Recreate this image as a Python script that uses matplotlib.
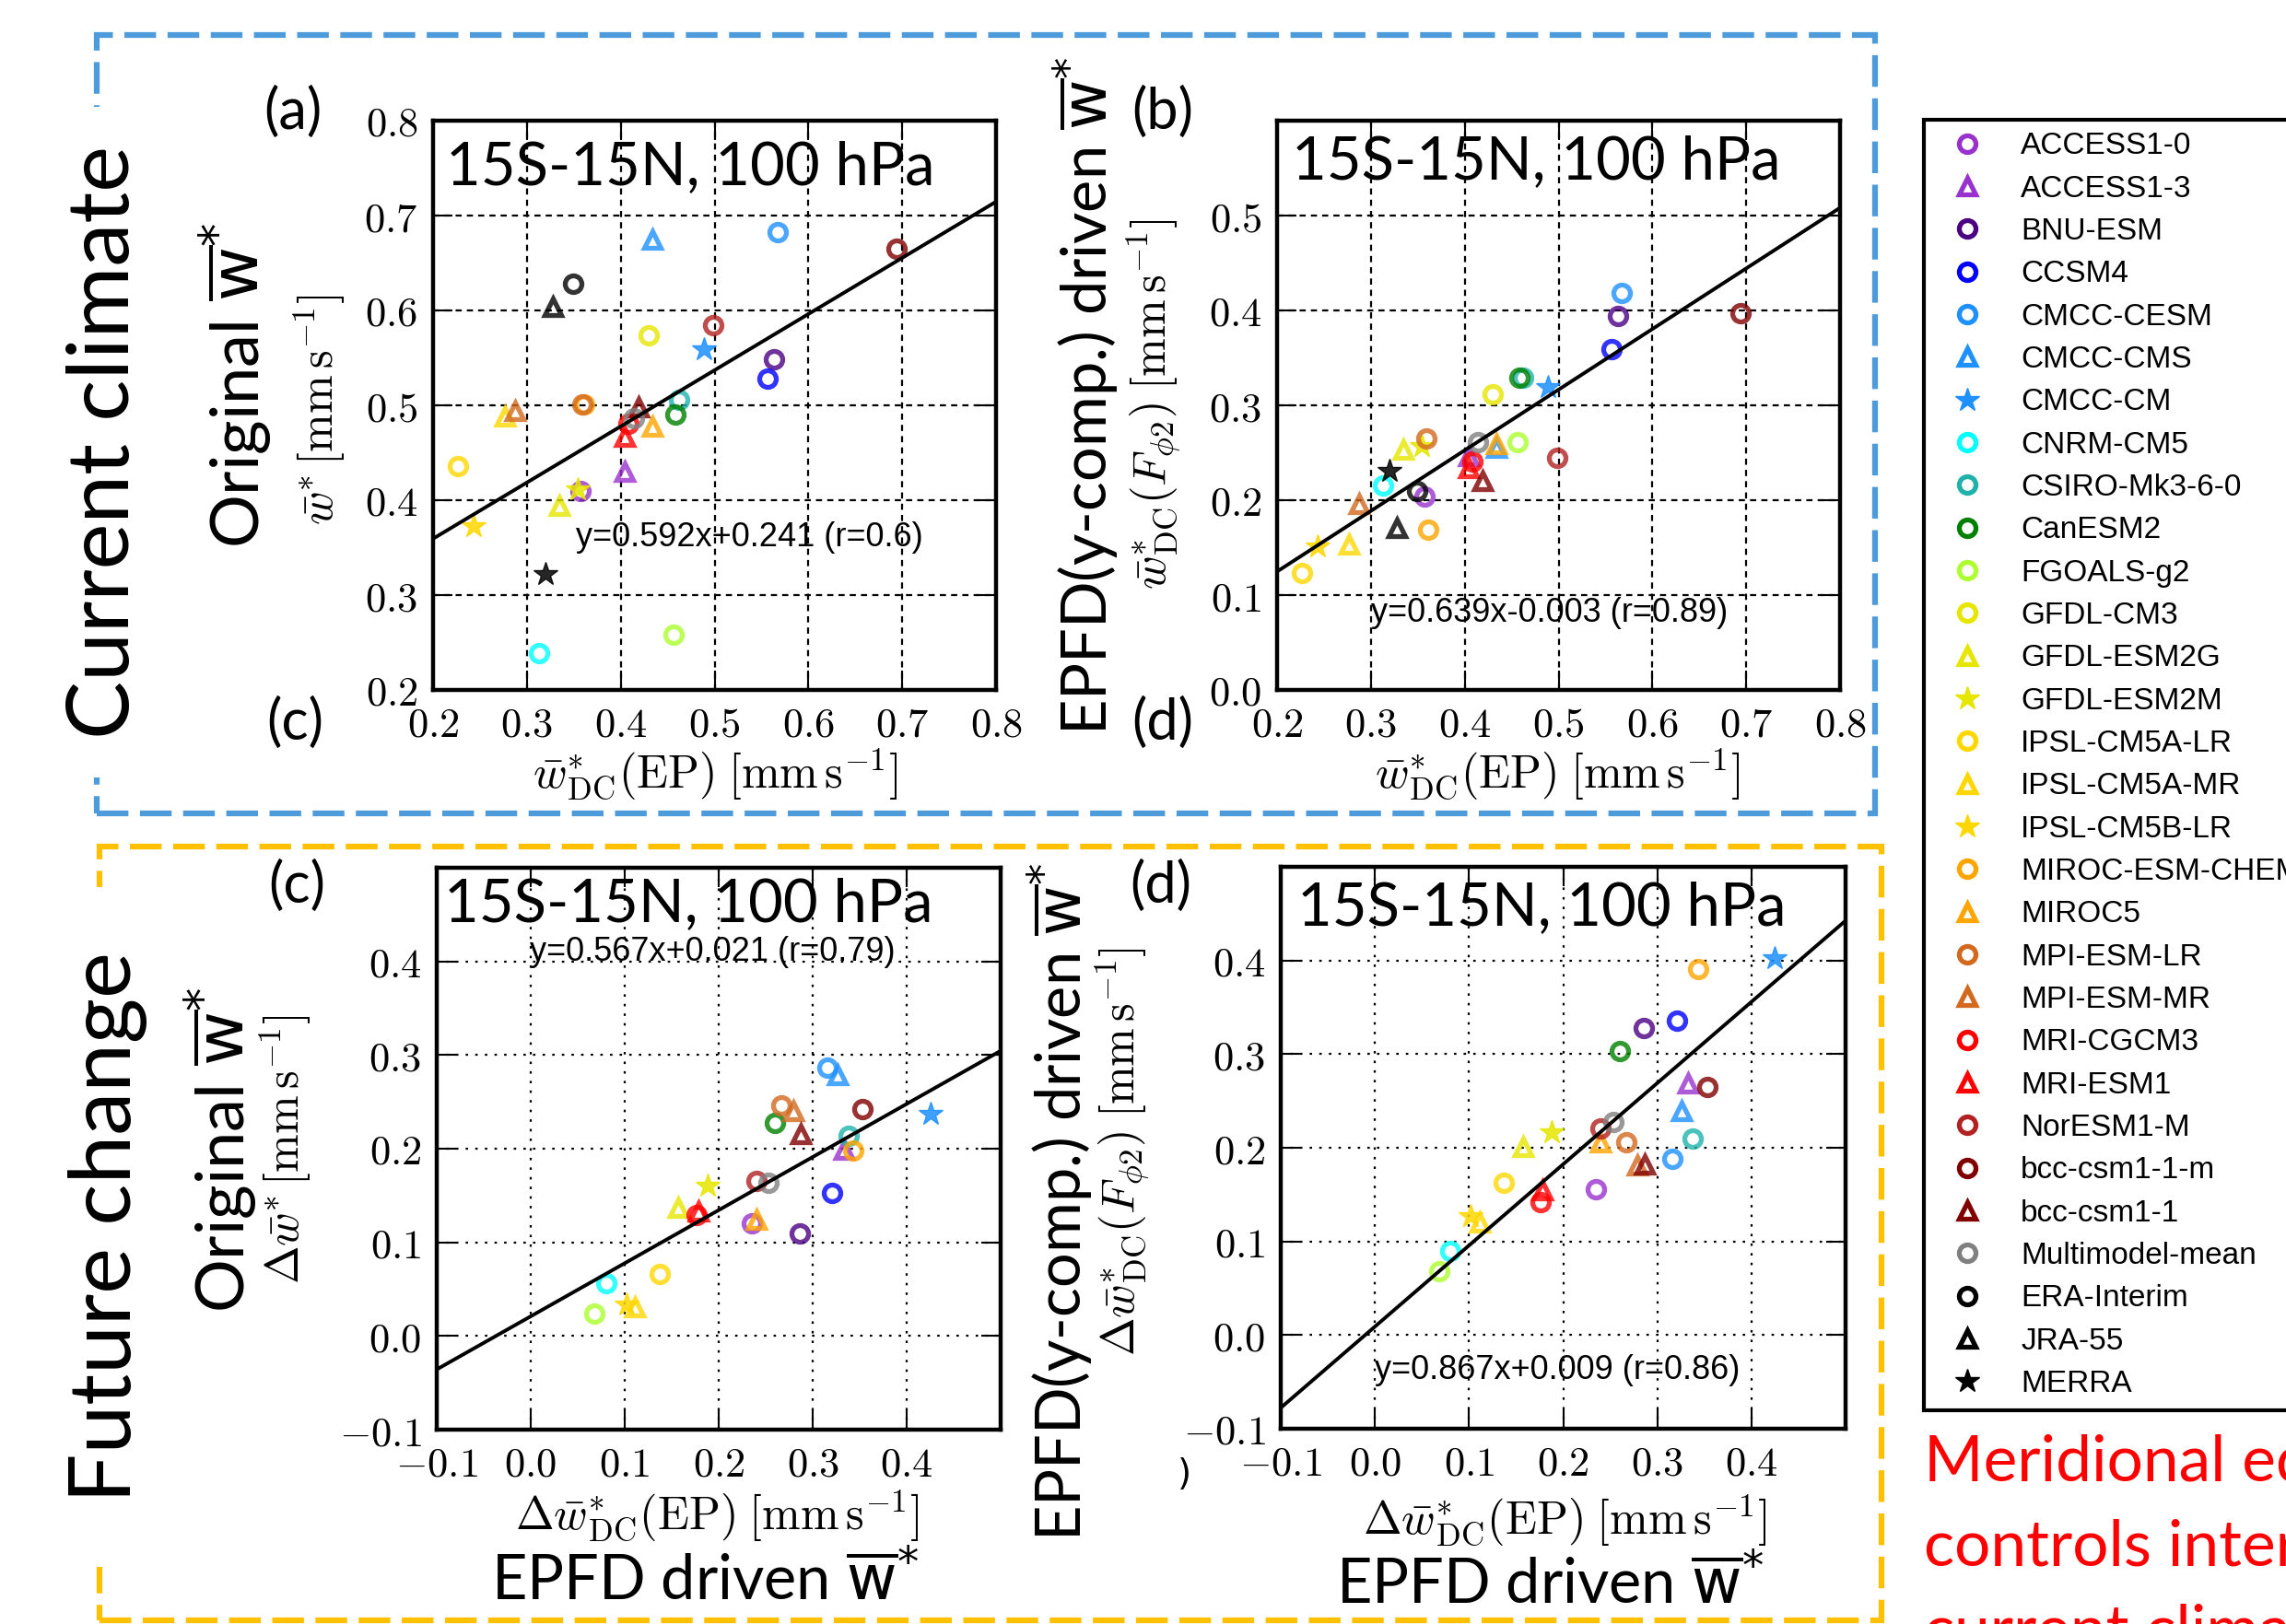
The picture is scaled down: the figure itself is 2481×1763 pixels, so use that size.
import numpy as np
import matplotlib
matplotlib.use('Agg')
import matplotlib.pyplot as plt
from matplotlib.lines import Line2D
from matplotlib.patches import Rectangle

W, H, DPI = 2481, 1763, 100
plt.rcParams['mathtext.fontset'] = 'cm'
plt.rcParams['font.family'] = ['DejaVu Sans']

# ---------------- data ----------------
models = ['ACCESS1-0', 'ACCESS1-3', 'BNU-ESM', 'CCSM4', 'CMCC-CESM', 'CMCC-CMS', 'CMCC-CM',
          'CNRM-CM5', 'CSIRO-Mk3-6-0', 'CanESM2', 'FGOALS-g2', 'GFDL-CM3', 'GFDL-ESM2G',
          'GFDL-ESM2M', 'IPSL-CM5A-LR', 'IPSL-CM5A-MR', 'IPSL-CM5B-LR', 'MIROC-ESM-CHEM',
          'MIROC5', 'MPI-ESM-LR', 'MPI-ESM-MR', 'MRI-CGCM3', 'MRI-ESM1', 'NorESM1-M',
          'bcc-csm1-1-m', 'bcc-csm1-1', 'Multimodel-mean', 'ERA-Interim', 'JRA-55', 'MERRA']
markers = ['o', '^', 'o', 'o', 'o', '^', '*', 'o', 'o', 'o', 'o', 'o', '^', '*', 'o', '^', '*',
           'o', '^', 'o', '^', 'o', '^', 'o', 'o', '^', 'o', 'o', '^', '*']
colors = ['#9932CC', '#9932CC', '#4B0082', '#0000FF', '#1E90FF', '#1E90FF', '#1E90FF',
          '#00FFFF', '#20B2AA', '#008000', '#ADFF2F', '#E6E600', '#E6E600', '#E6E600',
          '#FFD700', '#FFD700', '#FFD700', '#FFA500', '#FFA500', '#D2691E', '#D2691E',
          '#FF0000', '#FF0000', '#B22222', '#800000', '#800000', '#808080', '#000000',
          '#000000', '#000000']

# current climate: x = w*_DC(EP)
cur_x = [0.357, 0.404, 0.563, 0.556, 0.567, 0.434, 0.489, 0.313, 0.462, 0.458, 0.456, 0.430,
         0.335, 0.354, 0.227, 0.277, 0.243, 0.361, 0.434, 0.359, 0.287, 0.408, 0.404, 0.499,
         0.694, 0.419, 0.414, 0.349, 0.328, 0.320]
cur_y_orig = [0.410, 0.430, 0.549, 0.528, 0.683, 0.675, 0.559, 0.239, 0.506, 0.490, 0.258,
              0.574, 0.394, 0.412, 0.436, 0.488, 0.373, 0.501, 0.478, 0.501, 0.494, 0.481,
              0.467, 0.584, 0.665, 0.498, 0.486, 0.628, 0.604, 0.322]
cur_y_epfd = [0.204, 0.247, 0.394, 0.359, 0.418, 0.255, 0.319, 0.216, 0.329, 0.329, 0.261,
              0.312, 0.253, 0.257, 0.123, 0.153, 0.151, 0.169, 0.259, 0.265, 0.196, 0.241,
              0.234, 0.245, 0.397, 0.220, 0.261, 0.210, 0.171, 0.231]

nan = np.nan
# future change: x = delta w*_DC(EP)
fut_x = [0.235, 0.333, 0.286, 0.321, 0.316, 0.326, 0.425, 0.080, 0.338, 0.260, 0.068, nan,
         0.157, 0.188, 0.137, 0.111, 0.102, 0.343, 0.240, 0.267, 0.279, 0.176, 0.178, 0.240,
         0.353, 0.287, 0.253, nan, nan, nan]
fut_y_orig = [0.120, 0.199, 0.110, 0.153, 0.287, 0.279, 0.237, 0.056, 0.214, 0.228, 0.024, nan,
              0.137, 0.161, 0.066, 0.031, 0.034, 0.198, 0.124, 0.246, 0.240, 0.129, 0.133,
              0.166, 0.242, 0.216, 0.164, nan, nan, nan]
fut_y_epfd = [0.156, 0.269, 0.328, 0.336, 0.188, 0.239, 0.403, 0.090, 0.210, 0.303, 0.068, nan,
              0.201, 0.217, 0.163, 0.120, 0.127, 0.391, 0.206, 0.206, 0.181, 0.142, 0.155,
              0.221, 0.265, 0.182, 0.228, nan, nan, nan]

fit_slope = [0.592, 0.639, 0.567, 0.867]
fit_icept = [0.241, -0.003, 0.021, 0.009]
fit_r = ['0.6', '0.89', '0.79', '0.86']

cur_ticks_x = [0.2, 0.3, 0.4, 0.5, 0.6, 0.7, 0.8]
cur_ticks_y_orig = [0.2, 0.3, 0.4, 0.5, 0.6, 0.7, 0.8]
cur_ticks_y_epfd = [0.0, 0.1, 0.2, 0.3, 0.4, 0.5]
fut_ticks = [-0.1, 0.0, 0.1, 0.2, 0.3, 0.4]

title_txt = '15S-15N, 100 hPa'

# ---------------- figure ----------------
fig = plt.figure(figsize=(W / DPI, H / DPI), dpi=DPI)


def fx(px):
    return px / W


def fy(py):
    return 1 - py / H


def add_ax(l, t, r, b):
    return fig.add_axes([fx(l), fy(b), (r - l) / W, (b - t) / H])


def tl(v):
    v = round(v, 1)
    if v == 0:
        v = 0.0
    return r'$%.1f$' % v


def style(ax, xlim, ylim, xt, yt, gls):
    ax.set_xlim(xlim)
    ax.set_ylim(ylim)
    ax.set_xticks(xt)
    ax.set_yticks(yt)
    ax.set_xticklabels([tl(v) for v in xt])
    ax.set_yticklabels([tl(v) for v in yt])
    ax.tick_params(direction='in', length=15, width=1.5, top=True, right=True,
                   labelsize=32, pad=12)
    for s in ax.spines.values():
        s.set_linewidth(3.2)
    ax.grid(True, color='black', linestyle=gls, linewidth=1.6)
    ax.set_axisbelow(True)


def scatter(ax, xs, ys):
    for i in range(len(models)):
        if np.isnan(xs[i]) or np.isnan(ys[i]):
            continue
        m = markers[i]
        if m == '*':
            ax.plot(xs[i], ys[i], marker='*', ls='none', ms=19, mfc=colors[i],
                    mec=colors[i], mew=1, alpha=0.85, zorder=3)
        else:
            ax.plot(xs[i], ys[i], marker=m, ls='none', ms=13, mfc='none',
                    mec=colors[i], mew=3.8, alpha=0.8, zorder=3)


def fitline(ax, k, xlim):
    xx = np.array(xlim)
    ax.plot(xx, fit_slope[k] * xx + fit_icept[k], color='black', lw=2.8, zorder=4)


def eqtext(k):
    return 'y=%.3fx%+.3f (r=%s)' % (fit_slope[k], fit_icept[k], fit_r[k])


def title(ax, dx, dy):
    bb = ax.get_position()
    w = bb.width * W
    h = bb.height * H
    ax.text(dx / w, 1 - dy / h, title_txt, transform=ax.transAxes, family='Lato',
            fontsize=47, va='baseline', ha='left', zorder=6)


dash_a = (0, (3, 2.5))
dot_c = (0, (1.2, 3.5))
eqfont = dict(family='Liberation Sans', fontsize=26, va='center')

# (a)
axa = add_ax(470, 131, 1081, 749)
style(axa, (0.2, 0.8), (0.2, 0.8), cur_ticks_x, cur_ticks_y_orig, dash_a)
scatter(axa, cur_x, cur_y_orig)
fitline(axa, 0, (0.2, 0.8))
axa.text(0.352, 0.361, eqtext(0), **eqfont)
title(axa, 14, 69)

# (b)
axb = add_ax(1386, 131, 1997, 749)
style(axb, (0.2, 0.8), (0.0, 0.6), cur_ticks_x, cur_ticks_y_epfd, dash_a)
scatter(axb, cur_x, cur_y_epfd)
fitline(axb, 1, (0.2, 0.8))
axb.text(0.300, 0.081, eqtext(1), **eqfont)
title(axb, 16, 63)

# (c)
axc = add_ax(474, 942, 1086, 1552)
style(axc, (-0.1, 0.5), (-0.1, 0.5), fut_ticks, fut_ticks, dot_c)
scatter(axc, fut_x, fut_y_orig)
fitline(axc, 2, (-0.1, 0.5))
axc.text(-0.001, 0.410, eqtext(2), **eqfont)
title(axc, 8, 58)

# (d)
axd = add_ax(1390, 941, 2003, 1551)
style(axd, (-0.1, 0.5), (-0.1, 0.5), fut_ticks, fut_ticks, dot_c)
scatter(axd, fut_x, fut_y_epfd)
fitline(axd, 3, (-0.1, 0.5))
axd.text(0.0, -0.038, eqtext(3), **eqfont)
title(axd, 18, 63)

# ---------------- dashed group boxes ----------------
blue = '#4E9BDB'
orange = '#FFC000'
fig.add_artist(Rectangle((fx(105), fy(883)), (2035 - 105) / W, (883 - 38) / H,
                         transform=fig.transFigure, fill=False, edgecolor=blue,
                         linewidth=4.5, linestyle=(0, (5.5, 2)), zorder=1))
fig.add_artist(Rectangle((fx(108), fy(1759)), (2042 - 108) / W, (1759 - 919) / H,
                         transform=fig.transFigure, fill=False, edgecolor=orange,
                         linewidth=4.5, linestyle=(0, (5.5, 2)), zorder=1))

# ---------------- big labels ----------------
fig.text(fx(114), fy(480), 'Current climate', rotation=90, ha='center', va='center',
         family='Lato', fontsize=68,
         bbox=dict(facecolor='white', edgecolor='none', pad=30), zorder=5)
fig.text(fx(117), fy(1332), 'Future change', rotation=90, ha='center', va='center',
         family='Lato', fontsize=68,
         bbox=dict(facecolor='white', edgecolor='none', pad=50), zorder=5)

wbar = r'$\overline{\mathrm{w}}^{*}$'
big = dict(rotation=90, ha='center', va='center', family='Lato', fontsize=52,
           math_fontfamily='dejavusans', zorder=6)
fig.text(fx(256), fy(418), 'Original ' + wbar, **big)
fig.text(fx(240), fy(1248), 'Original ' + wbar, **big)
big48 = dict(big)
big48['fontsize'] = 48
fig.text(fx(1178), fy(430), 'EPFD(y-comp.) driven ' + wbar, **big48)
fig.text(fx(1150), fy(1305), 'EPFD(y-comp.) driven ' + wbar, **big48)
hor = dict(ha='center', va='center', family='Lato', fontsize=48,
           math_fontfamily='dejavusans', zorder=6)
fig.text(fx(765), fy(1717), 'EPFD driven ' + wbar, **hor)
fig.text(fx(1682), fy(1721), 'EPFD driven ' + wbar, **hor)

# math axis labels
ml = dict(ha='center', va='center', fontsize=36, zorder=6)
fig.text(fx(347), fy(445), r'$\bar{w}^{*}\,[\mathrm{mm\,s^{-1}}]$', rotation=90, **ml)
fig.text(fx(1252), fy(439), r'$\bar{w}^{*}_{\mathrm{DC}}(F_{\phi 2})\;[\mathrm{mm\,s^{-1}}]$',
         rotation=90, **ml)
fig.text(fx(310), fy(1248), r'$\Delta\bar{w}^{*}\,[\mathrm{mm\,s^{-1}}]$', rotation=90, **ml)
fig.text(fx(1218), fy(1250),
         r'$\Delta\bar{w}^{*}_{\mathrm{DC}}(F_{\phi 2})\;[\mathrm{mm\,s^{-1}}]$',
         rotation=90, **ml)
fig.text(fx(776), fy(840), r'$\bar{w}^{*}_{\mathrm{DC}}(\mathrm{EP})\;[\mathrm{mm\,s^{-1}}]$', **ml)
fig.text(fx(1690), fy(840), r'$\bar{w}^{*}_{\mathrm{DC}}(\mathrm{EP})\;[\mathrm{mm\,s^{-1}}]$', **ml)
fig.text(fx(778), fy(1645),
         r'$\Delta\bar{w}^{*}_{\mathrm{DC}}(\mathrm{EP})\;[\mathrm{mm\,s^{-1}}]$', **ml)
fig.text(fx(1698), fy(1650),
         r'$\Delta\bar{w}^{*}_{\mathrm{DC}}(\mathrm{EP})\;[\mathrm{mm\,s^{-1}}]$', **ml)

# panel letters
pl = dict(ha='center', va='center', family='Lato', fontsize=44, zorder=6)
fig.text(fx(318), fy(122), '(a)', **pl)
fig.text(fx(1262), fy(122), '(b)', **pl)
fig.text(fx(322), fy(962), '(c)', **pl)
fig.text(fx(1260), fy(962), '(d)', **pl)
fig.text(fx(320), fy(785), '(c)', **pl)
fig.text(fx(1262), fy(785), '(d)', **pl)
fig.text(fx(1285), fy(1601), ')', ha='center', va='center', fontsize=28, zorder=6)

# ---------------- legend ----------------
handles = []
for i in range(len(models)):
    if markers[i] == '*':
        h = Line2D([], [], marker='*', ls='none', ms=19, mfc=colors[i], mec=colors[i], mew=1)
    else:
        h = Line2D([], [], marker=markers[i], ls='none', ms=13, mfc='none',
                   mec=colors[i], mew=3.8)
    handles.append(h)
leg = fig.legend(handles, models, loc='upper left', bbox_to_anchor=(fx(2088), fy(130)),
                 bbox_transform=fig.transFigure, prop={'family': 'Liberation Sans', 'size': 24},
                 frameon=True, fancybox=False, edgecolor='black', framealpha=1,
                 borderpad=0.4, labelspacing=0.46, handlelength=2.0, handletextpad=0.75,
                 borderaxespad=0)
leg.get_frame().set_linewidth(3)

# ---------------- red note ----------------
red = dict(color='red', family='Lato', fontsize=50, ha='left', va='baseline')
fig.text(fx(2088), fy(1608), 'Meridional eddy', **red)
fig.text(fx(2088), fy(1700), 'controls interannual', **red)
fig.text(fx(2088), fy(1792), 'current climate', **red)

fig.savefig('out.png', dpi=DPI)
